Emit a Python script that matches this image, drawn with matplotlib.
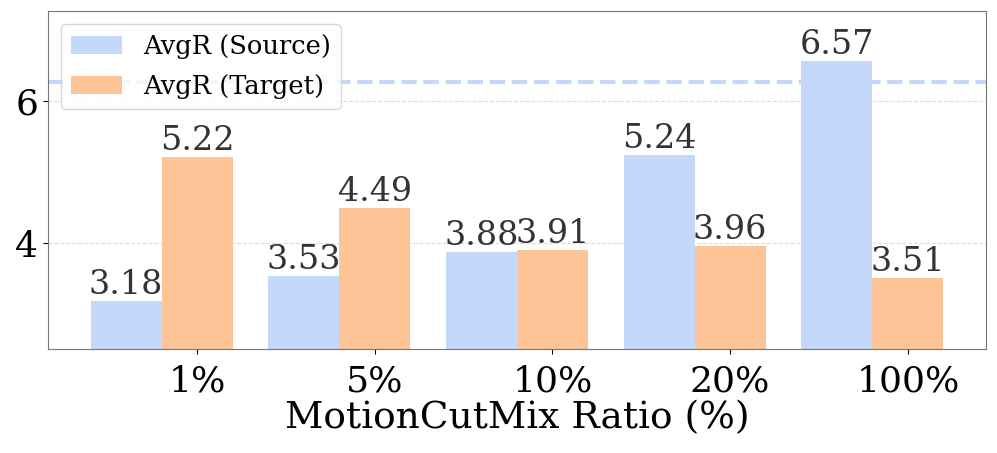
import numpy as np
import matplotlib
matplotlib.use("Agg")
import matplotlib.pyplot as plt

ratios = ["1%", "5%", "10%", "20%", "100%"]
avgr_source = [3.18, 3.53, 3.88, 5.24, 6.57]
avgr_target = [5.22, 4.49, 3.91, 3.96, 3.51]
baseline = 6.27

BLUE = "#c3d8fb"
ORANGE = "#fdc498"

plt.rcParams["font.family"] = "DejaVu Serif"

fig, ax = plt.subplots(figsize=(9.97, 4.53), dpi=100)
x = np.arange(len(ratios))
w = 0.4

b1 = ax.bar(x, avgr_source, w, color=BLUE, label="AvgR (Source)")
b2 = ax.bar(x + w, avgr_target, w, color=ORANGE, label="AvgR (Target)")
for bars in (b1, b2):
    for r in bars:
        ax.text(r.get_x() + r.get_width() / 2, r.get_height(), f"{r.get_height():.2f}",
                ha="center", va="bottom", fontsize=24, color="#333333")

ax.axhline(baseline, color=BLUE, lw=3, ls="--")
ax.grid(True, axis="y", ls="--", color="#dddddd", lw=0.8)
ax.set_axisbelow(True)

ax.set_ylim(2.51, 7.27)
ax.set_yticks([4, 6])
ax.set_xticks(x + w)
ax.set_xticklabels(ratios)
ax.tick_params(labelsize=26)
ax.tick_params(axis="x", pad=8)
ax.set_xlabel("MotionCutMix Ratio (%)", fontsize=27, labelpad=1)
for s in ax.spines.values():
    s.set_color("#777777")

ax.legend(loc="upper left", fontsize=18.5, handlelength=2.0, handletextpad=0.8,
          borderpad=0.4, labelspacing=0.55)

fig.subplots_adjust(left=0.048, right=0.989, top=0.975, bottom=0.23)
fig.savefig("out.png", dpi=100)
